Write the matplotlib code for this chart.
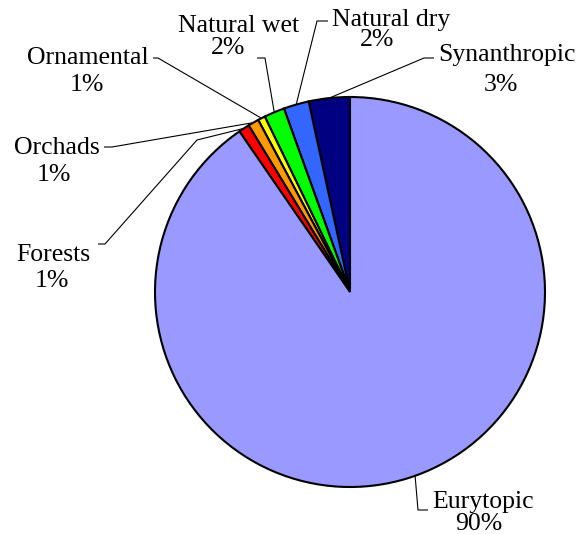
import matplotlib
matplotlib.use('Agg')
import numpy as np
from matplotlib import pyplot as plt

# habitat groups, counter-clockwise from 12 o'clock
labels = ['Synanthropic', 'Natural dry', 'Natural wet', 'Ornamental',
          'Orchads', 'Forests', 'Eurytopic']
shares = [3.4, 2.1, 1.7, 0.6, 0.9, 0.9, 90.4]
colours = ['#000080', '#3366ff', '#00ff00', '#ffff00',
           '#ff9900', '#ff0000', '#9999ff']

W, H = 582, 534
CX, CY, R = 350, 242, 195

# label layout in pixels (y from top): name centre, percent centre
name_pos = {
    'Synanthropic': (507, 55),
    'Natural dry': (391, 20),
    'Natural wet': (239, 26),
    'Ornamental': (88, 58),
    'Orchads': (57, 148),
    'Forests': (53, 255),
    'Eurytopic': (483, 502),
}
pct_pos = {
    'Synanthropic': (501, 85),
    'Natural dry': (377, 40),
    'Natural wet': (228, 48),
    'Ornamental': (87, 85),
    'Orchads': (54, 175),
    'Forests': (52, 281),
    'Eurytopic': (479, 524),
}
# leader line points from the label towards the slice
elbows = {
    'Synanthropic': [(434, 58), (424, 58)],
    'Natural dry': [(328, 21), (317, 21)],
    'Natural wet': [(257, 58), (265, 58)],
    'Ornamental': [(153, 58), (158, 58)],
    'Orchads': [(104, 147), (112, 147)],
    'Forests': [(98, 244), (105, 244), (197, 140)],
    'Eurytopic': [(428, 510), (418, 510)],
}


def px(p):
    return p[0], H - p[1]


plt.rcParams['font.family'] = ['Liberation Serif', 'DejaVu Serif']

fig = plt.figure(figsize=(W / 100, H / 100), dpi=100)
ax = fig.add_axes([0, 0, 1, 1])

wedges, _ = ax.pie(shares, colors=colours, startangle=90, counterclock=True,
                   center=(CX, CY), radius=R, frame=True,
                   wedgeprops=dict(edgecolor='black', linewidth=1.5))
ax.set_xlim(0, W)
ax.set_ylim(0, H)
ax.set_aspect('equal')
ax.axis('off')

for w, name, v in zip(wedges, labels, shares):
    mid = np.deg2rad((w.theta1 + w.theta2) / 2)
    if name == 'Eurytopic':
        mid = np.deg2rad(-70.5)
    anchor = (CX + R * np.cos(mid), CY + R * np.sin(mid))
    pts = [px(p) for p in elbows[name]] + [anchor]
    xs, ys = zip(*pts)
    ax.plot(xs, ys, color='black', linewidth=0.8, solid_capstyle='butt')
    nx, ny = px(name_pos[name])
    ax.text(nx, ny, name, ha='center', va='center', fontsize=18.5)
    qx, qy = px(pct_pos[name])
    ax.text(qx, qy, f'{v:.0f}%', ha='center', va='center', fontsize=18.5)

fig.savefig('out.png', dpi=100, facecolor='white')
